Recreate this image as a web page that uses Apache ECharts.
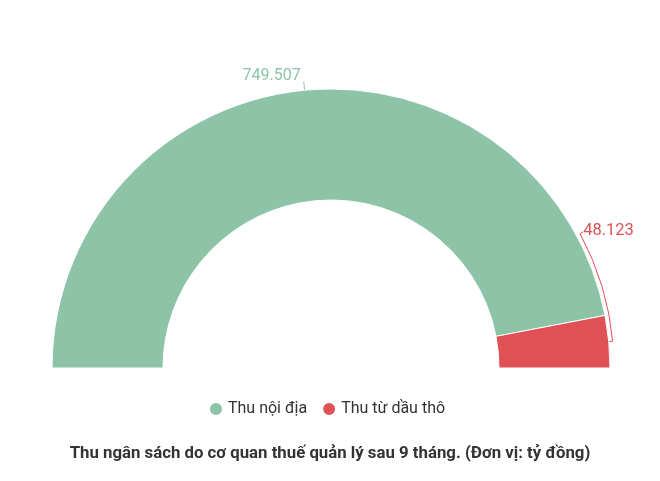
<!DOCTYPE html>
<html><head><meta charset="utf-8">
<script src="https://cdn.jsdelivr.net/npm/echarts@6/dist/echarts.min.js"></script>
<style>html,body{margin:0;padding:0;background:#fff}#c{width:660px;height:481px}</style>
</head><body><div id="c"></div>
<script>
var categories = ['Thu nội địa', 'Thu từ dầu thô'];
var values = [749.507, 48.123];
var labels = ['749.507', '48.123'];
var colors = ['#8dc4a8', '#e05156'];
var titleText = 'Thu ngân sách do cơ quan thuế quản lý sau 9 tháng. (Đơn vị: tỷ đồng)';

var CX = 331, CY = 368, R_IN = 168, R_OUT = 279;
var total = values[0] + values[1];
// mid angle of the red slice (degrees above the right horizontal)
var redMid = values[1] / total * 180 / 2;
var bracketR = R_OUT + 4;
var bracketTop = 28.3; // degrees, where the bracket meets its label
function pt(r, deg) { var a = deg * Math.PI / 180; return [CX + r * Math.cos(a), CY - r * Math.sin(a)]; }
var pTop = pt(bracketR, bracketTop);
var pBot = pt(bracketR, redMid);
var pBotIn = pt(R_OUT, redMid);

var chart = echarts.init(document.getElementById('c'));
chart.setOption({
  animation: false,
  color: colors,
  title: {
    text: titleText, left: 'center', top: 440,
    textStyle: { fontFamily: 'Roboto', fontSize: 16.8, fontWeight: 'bold', color: '#333' }
  },
  legend: {
    data: categories, left: 203, top: 396, icon: 'circle',
    itemWidth: 14, itemHeight: 14, itemGap: 14,
    textStyle: { fontFamily: 'Roboto', fontSize: 16, color: '#333' }
  },
  graphic: [
    { type: 'arc', silent: true,
      shape: { cx: CX, cy: CY, r: bracketR, startAngle: -bracketTop * Math.PI / 180, endAngle: -redMid * Math.PI / 180, clockwise: true },
      style: { stroke: colors[1], lineWidth: 1, fill: null } },
    { type: 'line', silent: true,
      shape: { x1: pBot[0], y1: pBot[1], x2: pBotIn[0], y2: pBotIn[1] },
      style: { stroke: colors[1], lineWidth: 1 } },
    { type: 'line', silent: true,
      shape: { x1: pTop[0], y1: pTop[1], x2: pTop[0] + 3, y2: pTop[1] - 2 },
      style: { stroke: colors[1], lineWidth: 1 } },
    { type: 'text', silent: true,
      x: pTop[0] + 3, y: pTop[1] - 3,
      style: { text: labels[1], fill: colors[1], font: '16.5px Roboto', textAlign: 'left', textVerticalAlign: 'middle' } }
  ],
  series: [{
    type: 'pie',
    center: [CX, CY],
    radius: [R_IN, R_OUT],
    startAngle: 180,
    endAngle: 0,
    clockwise: true,
    itemStyle: { borderColor: '#fff', borderWidth: 1 },
    label: {
      show: true, position: 'outside', fontFamily: 'Roboto', fontSize: 16, overflow: 'none',
      formatter: function (p) { return labels[p.dataIndex]; }
    },
    labelLine: { show: true, length: 9, length2: 0, smooth: false },
    labelLayout: function (p) {
      if (p.dataIndex === 0) { return { dy: -5, dx: 2 }; }
      return {};
    },
    data: categories.map(function (c, i) {
      return {
        name: c, value: values[i],
        label: { color: colors[i], show: i === 0 },
        labelLine: { show: i === 0, lineStyle: { color: colors[i] } }
      };
    })
  }]
});
</script></body></html>
